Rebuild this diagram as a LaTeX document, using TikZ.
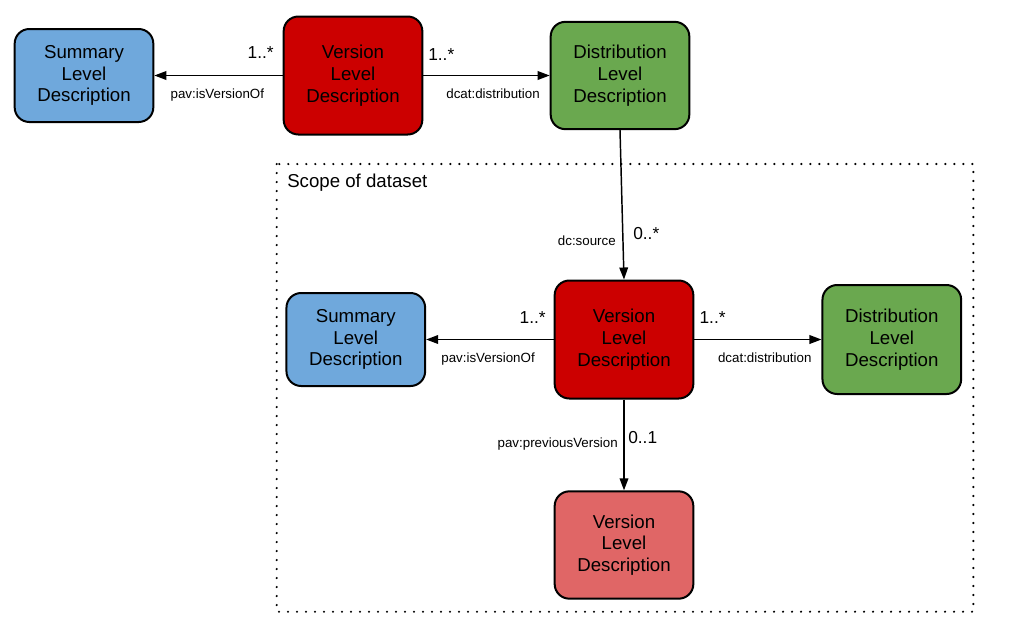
\documentclass[tikz,border=0pt]{standalone}
\usepackage{fontspec}
\setmainfont{Liberation Sans}
\usepackage{xcolor}
\usepackage{tikz}
\usetikzlibrary{arrows.meta}
\definecolor{sumblue}{HTML}{6FA8DC}
\definecolor{verred}{HTML}{CC0000}
\definecolor{distgreen}{HTML}{6AA84F}
\definecolor{prevred}{HTML}{E06666}

\begin{document}
\begin{tikzpicture}[x=0.75pt,y=-0.75pt]
		\tikzstyle{every node}+=[inner sep=0pt]
		\tikzstyle{box}=[draw=black, line width=1.5pt, rounded corners=11pt, minimum width=104pt, align=center, font=\fontsize{14}{16.3}\selectfont, execute at begin node={\rule{0pt}{18pt}}]
		\tikzstyle{link}=[black, line width=1.1pt, -{Triangle[length=9pt,width=6.5pt]}]
		\tikzstyle{card}=[font=\fontsize{13}{15}\selectfont]
		\tikzstyle{prop}=[font=\fontsize{10}{12}\selectfont]
		\useasboundingbox (0,0) rectangle (1009,643);
		\draw [black, line width=1.8pt, line cap=round, dash pattern=on 0pt off 6.75pt] (276.7,164) rectangle (973.3,611.7);
		\node [anchor=base west, font=\fontsize{14}{16}\selectfont] (scope) at (287,187) {Scope of dataset};
		\node [box, fill=sumblue, minimum height=69.75pt] (sumtop) at (84,75.5) {Summary\\Level\\Description};
		\node [box, fill=verred, minimum height=88.5pt] (vertop) at (353,75.5) {Version\\Level\\Description};
		\node [box, fill=distgreen, minimum height=80.5pt] (disttop) at (620,75.5) {Distribution\\Level\\Description};
		\node [box, fill=sumblue, minimum height=69.75pt] (sumds) at (355.8,339.5) {Summary\\Level\\Description};
		\node [box, fill=verred, minimum height=88.5pt] (verds) at (624,339.5) {Version\\Level\\Description};
		\node [box, fill=distgreen, minimum height=81.75pt] (distds) at (891.8,339.5) {Distribution\\Level\\Description};
		\node [box, fill=prevred, minimum height=80.5pt] (verprev) at (624,545) {Version\\Level\\Description};
		\draw [link] (vertop) -- (sumtop);
		\node [card, anchor=base east] (cardsumtop) at (274,58.3) {1..*};
		\node [prop, anchor=base east] (propsumtop) at (264.3,98.5) {pav:isVersionOf};
		\draw [link] (vertop) -- (disttop);
		\node [card, anchor=base west] (carddisttop) at (428,60) {1..*};
		\node [prop, anchor=base east] (propdisttop) at (540,98.5) {dcat:distribution};
		\draw [link] (disttop.south) -- (verds.north);
		\node [prop, anchor=base east] (propsource) at (616,245) {dc:source};
		\node [card, anchor=base west] (cardsource) at (633,239) {0..*};
		\draw [link] (verds) -- (sumds);
		\node [card, anchor=base east] (cardsumds) at (546,323.3) {1..*};
		\node [prop, anchor=base east] (propsumds) at (535,362.7) {pav:isVersionOf};
		\draw [link] (verds) -- (distds);
		\node [card, anchor=base west] (carddistds) at (699.3,323.3) {1..*};
		\node [prop, anchor=base east] (propdistds) at (811.7,362.7) {dcat:distribution};
		\draw [link] (verds) -- (verprev);
		\node [prop, anchor=base east] (propprev) at (618,447) {pav:previousVersion};
		\node [card, anchor=base west] (cardprev) at (628,443) {0..1};
\end{tikzpicture}
\end{document}
